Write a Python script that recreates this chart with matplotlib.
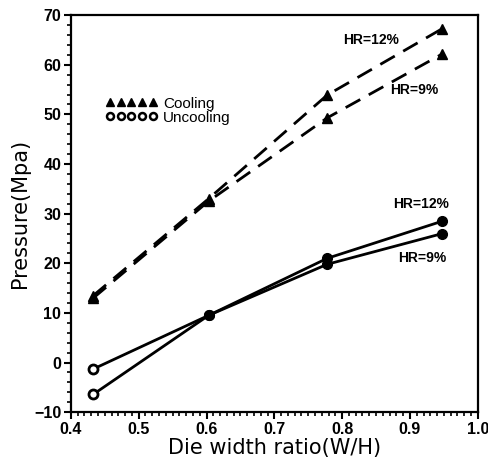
import matplotlib
matplotlib.use("Agg")
import matplotlib.pyplot as plt
from matplotlib.lines import Line2D
from matplotlib.ticker import MultipleLocator

# Die width ratio (W/H)
ratio = [0.433, 0.603, 0.778, 0.948]

# Pressure (MPa)
cooling_hr12 = [13.5, 33.0, 53.9, 67.3]
cooling_hr9 = [13.0, 32.5, 49.3, 62.2]
uncooling_hr12 = [-1.3, 9.5, 21.0, 28.5]
uncooling_hr9 = [-6.4, 9.5, 19.8, 26.0]

series_labels = ["HR=12%", "HR=9%", "HR=12%", "HR=9%"]
x_ticks = [0.4, 0.5, 0.6, 0.7, 0.8, 0.9, 1.0]
y_ticks = [-10, 0, 10, 20, 30, 40, 50, 60, 70]

plt.rcParams["font.family"] = ["DejaVu Sans"]

fig = plt.figure(figsize=(4.89, 4.58), dpi=100)
ax = fig.add_axes([0.145, 0.10, 0.832, 0.867])

lw = 2.0
# Cooling: dashed lines with filled triangles
for ys in (cooling_hr12, cooling_hr9):
    ax.plot(ratio, ys, color="black", lw=lw, ls=(0, (6, 3.5)),
            marker="^", ms=7, mfc="black", mec="black")

# Uncooling: solid lines, open circle at the first point, filled afterwards
for ys in (uncooling_hr12, uncooling_hr9):
    ax.plot(ratio, ys, color="black", lw=lw, ls="-")
    ax.plot(ratio[:1], ys[:1], ls="none", marker="o", ms=6.5,
            mfc="white", mec="black", mew=2)
    ax.plot(ratio[1:], ys[1:], ls="none", marker="o", ms=7,
            mfc="black", mec="black")

# Curve labels
txt_kw = dict(fontsize=10, fontweight="bold", ha="center", va="center",
              family="Liberation Sans")
ax.text(0.843, 65.0, series_labels[0], **txt_kw)
ax.text(0.907, 55.0, series_labels[1], **txt_kw)
ax.text(0.917, 32.0, series_labels[2], **txt_kw)
ax.text(0.918, 21.0, series_labels[3], **txt_kw)

# Legend
handles = [
    Line2D([], [], ls="none", marker="^", ms=5.5, mfc="black", mec="black"),
    Line2D([], [], ls="none", marker="o", ms=5, mfc="white", mec="black", mew=1.8),
]
ax.legend(handles, ["Cooling", "Uncooling"], numpoints=5, handlelength=3.4,
          handletextpad=0.35, labelspacing=0.0, frameon=False,
          loc="upper left", bbox_to_anchor=(0.085, 0.795),
          prop=dict(size=11, family="Liberation Sans"), borderpad=0,
          borderaxespad=0)

ax.set_xlim(0.4, 1.0)
ax.set_ylim(-10, 70)
ax.set_xticks(x_ticks)
ax.set_yticks(y_ticks)
tick_font = dict(fontsize=11.5, fontweight="bold", family="Liberation Sans")
ax.set_xticklabels([f"{v:.1f}" for v in x_ticks], **tick_font)
ax.set_yticklabels([f"{v:d}".replace("-", "\u2212") for v in y_ticks], **tick_font)
ax.xaxis.set_minor_locator(MultipleLocator(0.01))
ax.yaxis.set_minor_locator(MultipleLocator(2))
ax.tick_params(which="major", direction="out", length=5, width=1.5, pad=2,
               top=False, right=False)
ax.tick_params(which="minor", direction="out", length=3, width=1.2,
               top=False, right=False)
for s in ax.spines.values():
    s.set_linewidth(1.6)

ax.set_xlabel("Die width ratio(W/H)", fontsize=15, labelpad=1)
ax.set_ylabel("Pressure(Mpa)", fontsize=15, labelpad=3)

fig.savefig("out.png", dpi=100)
